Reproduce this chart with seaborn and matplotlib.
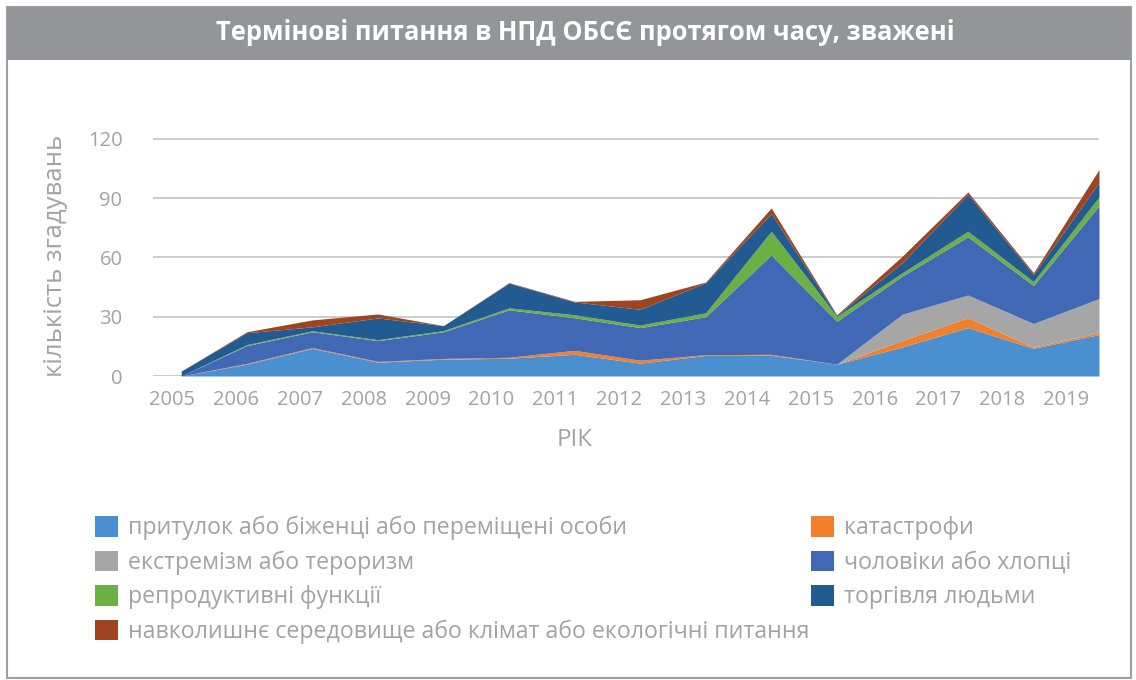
import numpy as np
import pandas as pd
import seaborn as sns
import matplotlib.pyplot as plt
from matplotlib.patches import Patch, Rectangle

# ---------------------------------------------------------------------------
# data
years = list(range(2005, 2020))
shelter = [0, 6, 14, 7, 8.5, 9, 11, 6.5, 10.4, 10.5, 6, 14.7, 24.5, 14, 21]
catastrophes = [0, 0.4, 0.4, 0.4, 0.4, 0.5, 2, 1.5, 0.4, 0.5, 0, 3.3, 5, 0.6, 1]
extremism = [0, 0, 0, 0, 0, 0, 0, 0, 0, 0, 0, 13.3, 11.5, 12, 17.2]
men_boys = [0, 9, 8, 10.5, 13.5, 24, 16.5, 16.5, 19.2, 50.3, 21.7, 19.3, 29.5, 19.2, 47]
reproductive = [0, 0.5, 0.5, 0.5, 0.6, 1, 1.5, 1.3, 2, 12, 2.5, 1.7, 2.8, 2, 4.5]
trafficking = [2.5, 6, 2, 11, 2.5, 12.5, 6.5, 8, 15.2, 9, 0.5, 5.1, 18.7, 3.5, 7.3]
environment = [0, 0.5, 3.5, 2, 0, 0.3, 0.3, 4.8, 0.4, 2.8, 0.3, 3.3, 1.2, 1, 6.5]

labels = ['притулок або біженці або переміщені особи',
          'катастрофи',
          'екстремізм або тероризм',
          'чоловіки або хлопці',
          'репродуктивні функції',
          'торгівля людьми',
          'навколишнє середовище або клімат або екологічні питання']
colors = ['#4a90d0', '#f07f2e', '#a6a6a6', '#4068b4', '#6cb043', '#215b91', '#9e4420']

title = 'Термінові питання в НПД ОБСЄ протягом часу, зважені'
ylab = 'кількість згадувань'
xlab = 'РІК'

df = pd.DataFrame({'year': years,
                   labels[0]: shelter, labels[1]: catastrophes,
                   labels[2]: extremism, labels[3]: men_boys,
                   labels[4]: reproductive, labels[5]: trafficking,
                   labels[6]: environment})

# ---------------------------------------------------------------------------
sns.set_theme(style='white')
plt.rcParams['font.family'] = ['Open Sans', 'DejaVu Sans']
txtcol = '#a3a3a7'
W, H = 1136, 680

fig = plt.figure(figsize=(W / 100, H / 100), dpi=100)
fig.patch.set_facecolor('white')

def px(x, y):
    return x / W, 1 - y / H

# frame and title band
fig.patches.append(Rectangle(px(7, 678), 1124 / W, 671 / H, transform=fig.transFigure,
                             fill=False, edgecolor='#a0a0a3', lw=1.5))
fig.patches.append(Rectangle(px(7, 60), 1124 / W, 53 / H, transform=fig.transFigure,
                             facecolor='#939598', edgecolor='none'))
fig.text(*px(585, 33), title, color='white', fontsize=18.4, fontweight='bold',
         ha='center', va='center')

# axes
l, b = px(153, 376)
r, t = px(1099, 138)
ax = fig.add_axes([l, b, r - l, t - b])
ax.stackplot(df['year'], [df[c] for c in labels], colors=colors, linewidth=0)
ax.set_xlim(2005 - 0.43, 2019)
ax.set_ylim(0, 120.5)
ax.set_yticks([0, 30, 60, 90, 120])
ax.set_xticks(2005 - 0.137 + 0.974 * np.arange(len(years)))
ax.set_xticklabels([str(y) for y in years])
ax.yaxis.grid(True, color='#c4c4c4', lw=1.2)
ax.set_axisbelow(True)
sns.despine(ax=ax, left=True, bottom=True)
ax.tick_params(axis='both', length=0, labelsize=14.5, labelcolor=txtcol)
ax.tick_params(axis='y', pad=22)
ax.tick_params(axis='x', pad=10)

fig.text(*px(55, 256), ylab, rotation=90, color=txtcol, fontsize=18.5,
         ha='center', va='center')
fig.text(*px(575, 440), xlab, color=txtcol, fontsize=17.5, ha='center', va='center')

# legend, two columns placed by hand
handles = [Patch(facecolor=c, edgecolor='none') for c in colors]
left_idx = [0, 2, 4, 6]
right_idx = [1, 3, 5]
for idx, x0 in [(left_idx, 95), (right_idx, 811)]:
    leg = fig.legend([handles[i] for i in idx], [labels[i] for i in idx],
                     loc='upper left', bbox_to_anchor=px(x0, 516), frameon=False,
                     fontsize=16.7, labelcolor=txtcol, handlelength=1.0,
                     handleheight=1.0, handletextpad=0.42, labelspacing=0.44,
                     borderpad=0, borderaxespad=0)

fig.savefig('out.png', dpi=100)
